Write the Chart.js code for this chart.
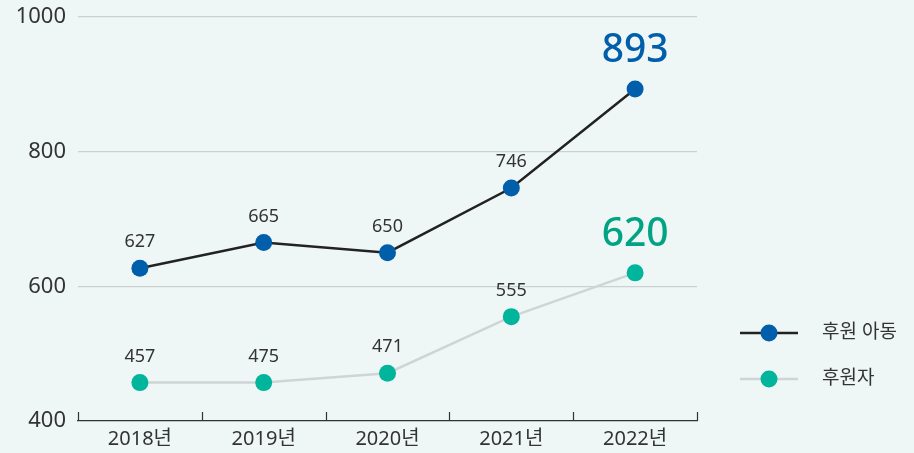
<!DOCTYPE html>
<html>
<head>
<meta charset="utf-8">
<script src="https://cdn.jsdelivr.net/npm/chart.js@4.4.0/dist/chart.umd.min.js"></script>
<style>
  html, body { margin: 0; padding: 0; background: #eef7f6; }
  #wrap { width: 914px; height: 453px; }
</style>
</head>
<body>
<div id="wrap"><canvas id="chart" width="914" height="453"></canvas></div>
<script>
// data
var years = ["2018년", "2019년", "2020년", "2021년", "2022년"];
var childValues = [627, 665, 650, 746, 893];
var sponsorValues = [457, 457, 471, 555, 620];   // 2019 point sits level with 2018 in the picture
var childLabels = ["627", "665", "650", "746", "893"];
var sponsorLabels = ["457", "475", "471", "555", "620"];
var yTicks = [400, 600, 800, 1000];
var seriesNames = ["후원 아동", "후원자"];

var FONT = "'Noto Sans', 'Noto Sans CJK KR', sans-serif";
var BLUE = "#005eab";
var TEAL = "#00b59b";

// value labels above points (last one big and coloured)
var valueLabels = {
  id: "valueLabels",
  afterDatasetsDraw: function(chart) {
    var ctx = chart.ctx;
    var sets = [
      { meta: chart.getDatasetMeta(0), labels: childLabels, color: BLUE },
      { meta: chart.getDatasetMeta(1), labels: sponsorLabels, color: "#00a383" }
    ];
    ctx.save();
    ctx.textAlign = "center";
    ctx.textBaseline = "middle";
    sets.forEach(function(s) {
      s.meta.data.forEach(function(pt, i) {
        var last = i === s.meta.data.length - 1;
        if (last) {
          ctx.font = "500 39px " + FONT;
          ctx.fillStyle = s.color;
          ctx.fillText(s.labels[i], pt.x, pt.y - 38);
        } else {
          ctx.font = "18px " + FONT;
          ctx.fillStyle = "#333";
          ctx.fillText(s.labels[i], pt.x, pt.y - 26);
        }
      });
    });
    ctx.restore();
  }
};

// x axis tick marks pointing up + legend on the right
var extras = {
  id: "extras",
  afterDraw: function(chart) {
    var ctx = chart.ctx;
    var xs = chart.scales.x;
    var area = chart.chartArea;
    var step = (xs.right - xs.left) / years.length;
    ctx.save();
    ctx.strokeStyle = "#333";
    ctx.lineWidth = 1.2;
    for (var i = 0; i <= years.length; i++) {
      var x = Math.round(xs.left + i * step) + 0.5;
      ctx.beginPath();
      ctx.moveTo(x, area.bottom);
      ctx.lineTo(x, area.bottom - 9);
      ctx.stroke();
    }

    var items = [
      { name: seriesNames[0], line: "#222", dot: BLUE, y: 333 },
      { name: seriesNames[1], line: "#cfd5d5", dot: TEAL, y: 379 }
    ];
    items.forEach(function(it) {
      ctx.strokeStyle = it.line;
      ctx.lineWidth = 2.5;
      ctx.beginPath();
      ctx.moveTo(740, it.y);
      ctx.lineTo(798, it.y);
      ctx.stroke();
      ctx.fillStyle = it.dot;
      ctx.beginPath();
      ctx.arc(769, it.y, 8.5, 0, Math.PI * 2);
      ctx.fill();
      ctx.fillStyle = "#333";
      ctx.font = "19px " + FONT;
      ctx.textAlign = "left";
      ctx.textBaseline = "middle";
      ctx.fillText(it.name, 822, it.y);
    });
    ctx.restore();
  }
};

var ctx = document.getElementById("chart");
var chart = new Chart(ctx, {
  type: "line",
  data: {
    labels: years,
    datasets: [
      {
        label: seriesNames[0], data: childValues,
        borderColor: "#222", borderWidth: 2.5,
        pointBackgroundColor: BLUE, pointBorderWidth: 0, pointRadius: 8.5,
        tension: 0, fill: false
      },
      {
        label: seriesNames[1], data: sponsorValues,
        borderColor: "#cfd5d5", borderWidth: 2.5,
        pointBackgroundColor: TEAL, pointBorderWidth: 0, pointRadius: 8.5,
        tension: 0, fill: false
      }
    ]
  },
  options: {
    responsive: false,
    animation: false,
    layout: { padding: { top: 17, right: 217, left: 0, bottom: 0 } },
    plugins: { legend: { display: false }, tooltip: { enabled: false } },
    scales: {
      x: {
        offset: true,
        grid: { display: false, drawTicks: false },
        border: { display: true, color: "#333", width: 1.2 },
        ticks: { color: "#333", font: { family: FONT, size: 20 }, padding: 6 },
        afterFit: function(s) { s.height = 32; s.paddingLeft = 0; s.paddingRight = 0; }
      },
      y: {
        min: 400, max: 1000,
        afterBuildTicks: function(s) { s.ticks = yTicks.map(function(v) { return { value: v }; }); },
        grid: {
          drawTicks: false,
          color: function(c) { return c.tick && c.tick.value === 400 ? "rgba(0,0,0,0)" : "#c9d1d1"; },
          lineWidth: 1.2
        },
        border: { display: false },
        ticks: {
          color: "#333", font: { family: FONT, size: 22 }, padding: 12,
          callback: function(v) { return String(v); }
        },
        afterFit: function(s) { s.width = 78; s.paddingTop = 0; s.paddingBottom = 0; }
      }
    }
  },
  plugins: [valueLabels, extras]
});
</script>
</body>
</html>
